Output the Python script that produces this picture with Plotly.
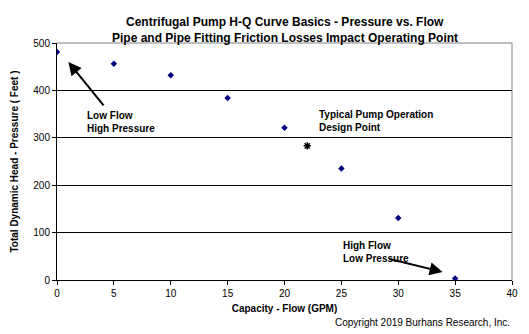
import plotly.graph_objects as go

flow_gpm = [0, 5, 10, 15, 20, 25, 30, 35]
head_ft = [481, 456, 432, 384, 321, 235, 131, 3]
design_flow = [22]
design_head = [283]

FONT = "Liberation Sans, Arial, sans-serif"

fig = go.Figure()
fig.add_trace(go.Scatter(x=flow_gpm, y=head_ft, mode="markers",
                         marker=dict(symbol="diamond", size=5, color="#000080"),
                         showlegend=False))
fig.add_trace(go.Scatter(x=design_flow, y=design_head, mode="markers",
                         marker=dict(symbol="asterisk", size=6, color="black",
                                     line=dict(color="black", width=1.5)),
                         showlegend=False))

fig.update_layout(
    width=529, height=334,
    margin=dict(l=57, r=17, t=43, b=54),
    paper_bgcolor="white", plot_bgcolor="white",
    font=dict(family=FONT, size=10, color="black"),
    xaxis=dict(range=[0, 40], dtick=5, showgrid=False, zeroline=False,
               showline=True, linecolor="black", linewidth=1, mirror=False,
               ticks="outside", ticklen=4, tickcolor="black",
               title=dict(text="<b>Capacity - Flow (GPM)</b>", font=dict(size=10), standoff=6)),
    yaxis=dict(range=[0, 500], dtick=100, showgrid=True, gridcolor="black", gridwidth=1,
               zeroline=False, showline=True, linecolor="black", linewidth=1,
               ticks="outside", ticklen=4, tickcolor="black",
               title=dict(text="<b>Total Dynamic Head - Pressure ( Feet )</b>", font=dict(size=10), standoff=12)),
)

# title lines
fig.add_annotation(x=0.5, y=1.0886, xref="paper", yref="paper", showarrow=False,
                   text="<b>Centrifugal Pump H-Q Curve Basics - Pressure vs. Flow</b>",
                   xanchor="center", yanchor="middle", font=dict(size=12))
fig.add_annotation(x=0.5, y=1.021, xref="paper", yref="paper", showarrow=False,
                   text="<b>Pipe and Pipe Fitting Friction Losses Impact Operating Point</b>",
                   xanchor="center", yanchor="middle", font=dict(size=12))

# plot border (top & right in gray)
fig.add_shape(type="line", xref="paper", yref="paper", x0=0, x1=1, y0=1, y1=1,
              line=dict(color="#808080", width=1))
fig.add_shape(type="line", xref="paper", yref="paper", x0=1, x1=1, y0=0, y1=1,
              line=dict(color="#808080", width=1))

fig.add_annotation(x=1.0, y=460, ax=4.2, ay=365, xref="x", yref="y", axref="x", ayref="y",
                   showarrow=True, arrowhead=2, arrowsize=1.3, arrowwidth=2, arrowcolor="black", text="")
fig.add_annotation(x=33.9, y=17, ax=29.1, ay=45, xref="x", yref="y", axref="x", ayref="y",
                   showarrow=True, arrowhead=2, arrowsize=1.3, arrowwidth=2, arrowcolor="black", text="")

fig.add_annotation(x=2.5, y=333, xref="x", yref="y", text="<b>Low Flow<br>High Pressure</b>",
                   showarrow=False, xanchor="left", yanchor="middle", align="left",
                   font=dict(size=10))
fig.add_annotation(x=22.9, y=336, xref="x", yref="y", text="<b>Typical Pump Operation<br>Design Point</b>",
                   showarrow=False, xanchor="left", yanchor="middle", align="left",
                   font=dict(size=10))
fig.add_annotation(x=25.0, y=60, xref="x", yref="y", text="<b>High Flow<br>Low Pressure</b>",
                   showarrow=False, xanchor="left", yanchor="middle", align="left",
                   font=dict(size=10))
fig.add_annotation(x=1.0, y=-0.181, xref="paper", yref="paper", text="Copyright 2019 Burhans Research, Inc.",
                   showarrow=False, xanchor="right", yanchor="middle",
                   font=dict(size=10))

fig.write_html("out.html")
